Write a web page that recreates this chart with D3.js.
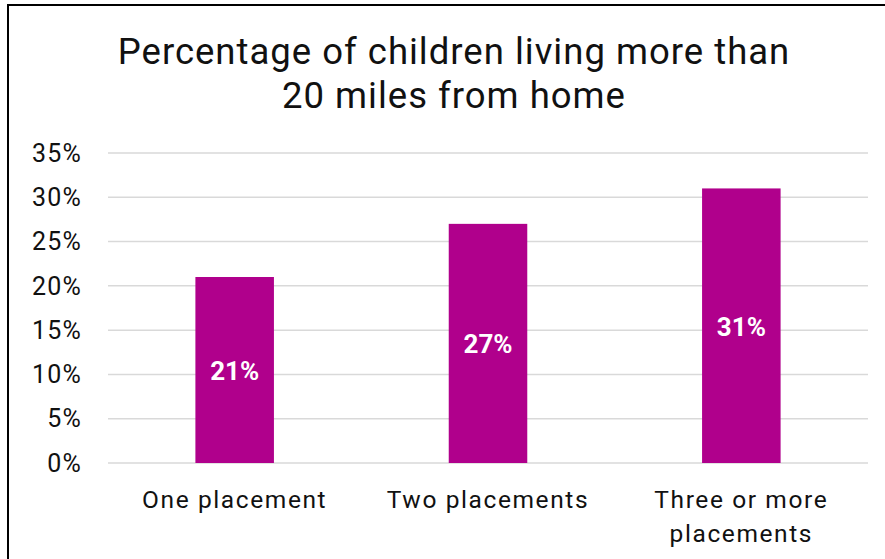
<!DOCTYPE html>
<html>
<head>
    <script src="https://cdnjs.cloudflare.com/ajax/libs/d3/7.8.5/d3.min.js"></script>
    <style>
        body { margin: 0; padding: 0; background: white; }
        svg { display: block; font-family: Roboto, "Liberation Sans", sans-serif; }
    </style>
</head>
<body>
    <svg id="chart" width="885" height="559"></svg>
    <script>
        // data
        const categories = [["One placement"], ["Two placements"], ["Three or more", "placements"]];
        const values = [21, 27, 31];
        const yTicks = [0, 5, 10, 15, 20, 25, 30, 35];
        const titleLines = ["Percentage of children living more than", "20 miles from home"];

        const width = 885, height = 559;
        const margin = { top: 153, right: 17, bottom: 96, left: 108 };
        const svg = d3.select('#chart');

        // frame (only left and top edges are visible in the crop)
        svg.append('rect')
            .attr('x', 8).attr('y', 5)
            .attr('width', 900).attr('height', 600)
            .attr('fill', 'none')
            .attr('stroke', '#000')
            .attr('stroke-width', 2);

        const x = d3.scaleBand()
            .domain(d3.range(values.length))
            .range([margin.left, width - margin.right])
            .paddingInner(0.69)
            .paddingOuter(0.345);

        const y = d3.scaleLinear()
            .domain([0, 35])
            .range([height - margin.bottom, margin.top]);

        // gridlines
        svg.append('g')
            .selectAll('line')
            .data(yTicks)
            .join('line')
            .attr('x1', margin.left)
            .attr('x2', width - margin.right)
            .attr('y1', d => y(d))
            .attr('y2', d => y(d))
            .attr('stroke', '#d9d9d9')
            .attr('stroke-width', 1.5);

        // y labels
        svg.append('g')
            .selectAll('text')
            .data(yTicks)
            .join('text')
            .attr('x', 82)
            .attr('y', d => y(d))
            .attr('dy', '0.35em')
            .attr('text-anchor', 'end')
            .attr('font-size', 25)
            .attr('letter-spacing', 1.2)
            .attr('fill', '#111')
            .text(d => d + '%');

        // bars
        svg.append('g')
            .selectAll('rect')
            .data(values)
            .join('rect')
            .attr('x', (d, i) => x(i))
            .attr('width', x.bandwidth())
            .attr('y', d => y(d))
            .attr('height', d => y(0) - y(d))
            .attr('fill', '#b0008c');

        // value labels
        svg.append('g')
            .selectAll('text')
            .data(values)
            .join('text')
            .attr('x', (d, i) => x(i) + x.bandwidth() / 2)
            .attr('y', d => (y(d) + y(0)) / 2)
            .attr('dy', '0.38em')
            .attr('text-anchor', 'middle')
            .attr('font-size', 26)
            .attr('font-weight', 'bold')
            .attr('fill', 'white')
            .text(d => d + '%');

        // category labels
        const cat = svg.append('g')
            .selectAll('text')
            .data(categories)
            .join('text')
            .attr('x', (d, i) => x(i) + x.bandwidth() / 2)
            .attr('y', 508)
            .attr('text-anchor', 'middle')
            .attr('font-size', 24.5)
            .attr('letter-spacing', 1.6)
            .attr('fill', '#111');
        cat.selectAll('tspan')
            .data(d => d)
            .join('tspan')
            .attr('x', function() { return this.parentNode.getAttribute('x'); })
            .attr('dy', (d, i) => i === 0 ? 0 : 34)
            .text(d => d);

        // title
        svg.append('g')
            .selectAll('text')
            .data(titleLines)
            .join('text')
            .attr('x', 454)
            .attr('y', (d, i) => 64 + i * 44)
            .attr('text-anchor', 'middle')
            .attr('font-size', 36.5)
            .attr('letter-spacing', 1)
            .attr('fill', '#111')
            .text(d => d);
    </script>
</body>
</html>
